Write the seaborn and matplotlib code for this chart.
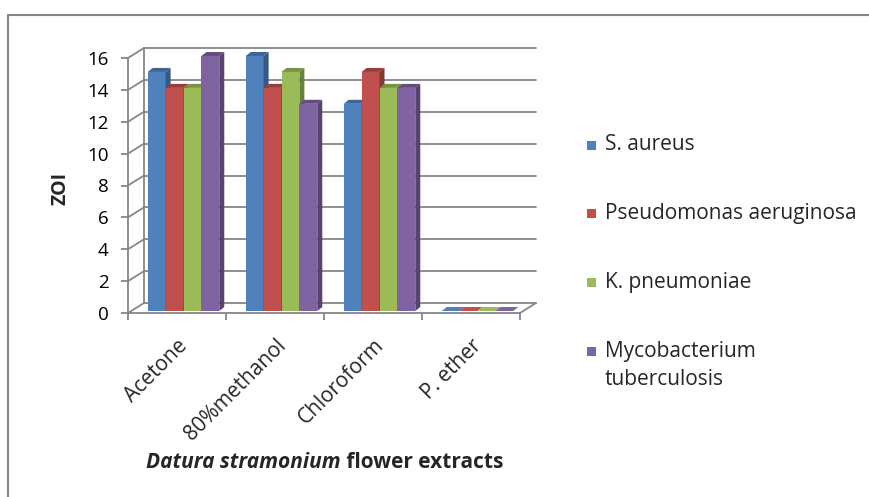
import numpy as np
import pandas as pd
import matplotlib
matplotlib.use("Agg")
import matplotlib.pyplot as plt
import seaborn as sns
from matplotlib.patches import Polygon, Rectangle

# data
extracts = ["Acetone", "80%methanol", "Chloroform", "P. ether"]
s_aureus = [15, 16, 13, 0]
pseudomonas = [14, 14, 15, 0]
k_pneumoniae = [14, 15, 14, 0]
mycobacterium = [16, 13, 14, 0]
organisms = ["S. aureus", "Pseudomonas aeruginosa", "K. pneumoniae",
             "Mycobacterium\ntuberculosis"]
colors = ["#4F81BD", "#C0504D", "#9BBB59", "#8064A2"]
yticks = list(range(0, 17, 2))

df = pd.DataFrame({"extract": extracts, organisms[0]: s_aureus,
                   organisms[1]: pseudomonas, organisms[2]: k_pneumoniae,
                   organisms[3]: mycobacterium})
df = df.melt(id_vars="extract", var_name="organism", value_name="zoi")

sns.set_style("white")
plt.rcParams["font.family"] = ["Open Sans", "DejaVu Sans"]
FS_Y = 13.5
FS = 15
GRID = "#868686"

W, H = 869, 497
fig = plt.figure(figsize=(W / 100, H / 100), dpi=100)

# front plane of the 3d box, in pixels
L, R, B, T = 128, 520, 313, 58
ax = fig.add_axes([L / W, (H - B) / H, (R - L) / W, (B - T) / H])
ax.patch.set_visible(False)

sns.barplot(data=df, x="extract", y="zoi", hue="organism", palette=colors,
            width=0.73, saturation=1, linewidth=0, legend=False, ax=ax)
ax.set_xlim(-0.5, 3.5)
ax.set_ylim(0, 16)

ux = (R - L) / 4      # px per category
uy = (B - T) / 16     # px per unit
bx, by = 16 / ux, 10 / uy      # back wall offset
ox, oy = 6.5 / ux, 2 / uy      # bars sit a bit into the box
sx, sy = 5 / ux, 4 / uy        # bar depth

# back wall, left wall and floor lines
for y in yticks:
    ax.plot([-0.5 + bx, 3.5 + bx], [y + by, y + by], color=GRID, lw=1.3,
            zorder=0.5, clip_on=False)
    ax.plot([-0.5, -0.5 + bx], [y, y + by], color=GRID, lw=1.3,
            zorder=0.5, clip_on=False)
ax.plot([-0.5 + bx] * 2, [by, 16 + by], color=GRID, lw=1.3, zorder=0.5, clip_on=False)
ax.plot([3.5, 3.5 + bx], [0, by], color=GRID, lw=1.3, zorder=0.5, clip_on=False)

# fake 3d columns
bars = sorted(ax.patches, key=lambda p: p.get_x())
for i, p in enumerate(bars):
    x0 = p.get_x() + ox
    w = p.get_width()
    h = p.get_height()
    y0 = oy
    p.set_x(x0)
    p.set_y(y0)
    p.set_clip_on(False)
    z = 2 + i * 0.01
    p.set_zorder(z)
    c = np.array(p.get_facecolor()[:3])
    side = c * 0.68
    top = c * 0.78
    x1, y1 = x0 + w, y0 + h
    if h > 0:
        ax.add_patch(Polygon([(x1, y0), (x1 + sx, y0 + sy), (x1 + sx, y1 + sy), (x1, y1)],
                             closed=True, facecolor=side, lw=0, zorder=z, clip_on=False))
        topc = top
    else:
        topc = c
    ax.add_patch(Polygon([(x0, y1), (x1, y1), (x1 + sx, y1 + sy), (x0 + sx, y1 + sy)],
                         closed=True, facecolor=topc, lw=0, zorder=z, clip_on=False))

for s in ["top", "right"]:
    ax.spines[s].set_visible(False)
for s in ["left", "bottom"]:
    ax.spines[s].set_color(GRID)
    ax.spines[s].set_linewidth(1.3)
    ax.spines[s].set_zorder(0.6)

ax.set_yticks(yticks)
ax.tick_params(axis="y", length=5, width=1.3, color=GRID, labelsize=FS_Y,
               labelcolor="black", pad=9, left=True)
ax.set_xticks(range(len(extracts)))
ax.set_xticklabels(extracts, rotation=45, ha="right", rotation_mode="anchor")
ax.tick_params(axis="x", which="major", length=0, labelsize=FS, pad=16)
ax.set_xticks(np.arange(-0.5, 4, 1), minor=True)
ax.tick_params(axis="x", which="minor", length=5, width=1.3, color=GRID, bottom=True)
ax.set_xlabel("")
ax.set_ylabel("")

# axis titles
fig.text(61 / W, 1 - 188 / H, "ZOI", rotation=90, fontsize=FS_Y + 0.5, fontweight="bold",
         ha="center", va="center")
fig.canvas.draw()
r = fig.canvas.get_renderer()
t1 = fig.text(0, 1 - 463 / H, "Datura stramonium", fontsize=FS, fontweight="bold",
              fontstyle="italic", ha="left", va="center")
t2 = fig.text(0, 1 - 463 / H, " flower extracts", fontsize=FS, fontweight="bold",
              ha="left", va="center")
w1 = t1.get_window_extent(r).width
w2 = t2.get_window_extent(r).width
start = 325 - (w1 + w2) / 2
t1.set_x(start / W)
t2.set_x((start + w1) / W)

# legend
for k, (name, col) in enumerate(zip(organisms, colors)):
    yc = 145 + k * 68.7
    fig.add_artist(Rectangle((587 / W, 1 - (yc + 4.5) / H), 9 / W, 9 / H,
                             transform=fig.transFigure, facecolor=col, lw=0))
    for j, line in enumerate(name.split("\n")):
        fig.text(605 / W, 1 - (yc + j * 28) / H, line, fontsize=FS,
                 ha="left", va="center")

# outer chart border
fig.add_artist(Rectangle((8 / W, -0.2), 1.2, (H - 15) / H + 0.2, transform=fig.transFigure,
                         fill=False, edgecolor=GRID, lw=1.5))

fig.savefig("out.png", dpi=100)
